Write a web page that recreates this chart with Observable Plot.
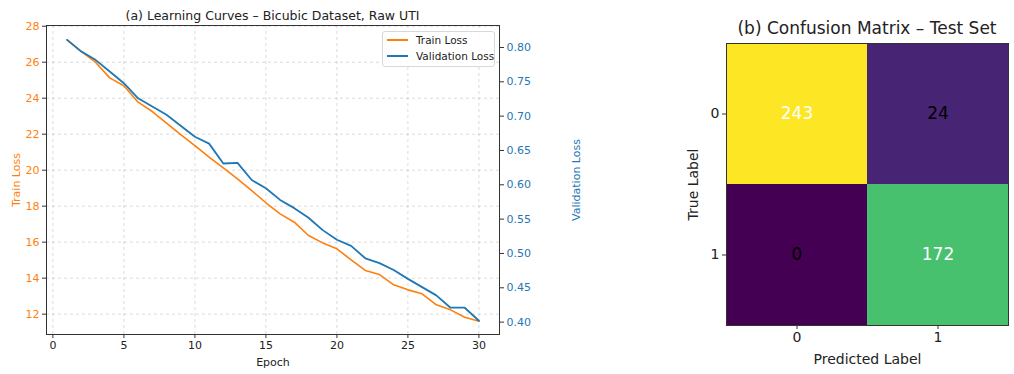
<!DOCTYPE html>
<html>
<head>
<meta charset="utf-8">
<script src="https://cdn.jsdelivr.net/npm/d3@7"></script>
<script src="https://cdn.jsdelivr.net/npm/@observablehq/plot@0.6"></script>
<style>
  html, body { margin: 0; padding: 0; background: white; }
  #root { position: relative; width: 1014px; height: 374px; overflow: hidden; font-family: "DejaVu Sans", sans-serif; }
  .layer { position: absolute; top: 0; }
  .title { position: absolute; white-space: nowrap; transform: translate(-50%, -50%); color: #222; }
  #legend { position: absolute; left: 382px; top: 31px; width: 113px; height: 36px; border: 1px solid #d8d8d8; border-radius: 3px; background: rgba(255,255,255,0.85); font-size: 10.5px; color: #222; box-sizing: border-box; }
  #legend .row { position: absolute; left: 4px; display: flex; align-items: center; white-space: nowrap; }
  #legend .sw { width: 21px; height: 2px; margin-right: 8px; }
</style>
</head>
<body>
<div id="root"></div>
<script>
// ---------- data ----------
const epochs = [1,2,3,4,5,6,7,8,9,10,11,12,13,14,15,16,17,18,19,20,21,22,23,24,25,26,27,28,29,30];
const trainLoss = [27.24,26.60,26.00,25.13,24.69,23.78,23.26,22.61,21.98,21.37,20.72,20.13,19.52,18.87,18.19,17.57,17.11,16.37,15.96,15.63,15.02,14.43,14.20,13.63,13.35,13.13,12.52,12.24,11.83,11.61];
const valLoss = [0.811,0.794,0.782,0.765,0.748,0.726,0.714,0.702,0.686,0.670,0.660,0.631,0.632,0.607,0.595,0.578,0.566,0.552,0.534,0.520,0.511,0.493,0.486,0.476,0.463,0.451,0.439,0.421,0.421,0.402];
const xTicks = [0,5,10,15,20,25,30];
const trainTicks = [12,14,16,18,20,22,24,26,28];
const valTicks = [0.40,0.45,0.50,0.55,0.60,0.65,0.70,0.75,0.80];
const seriesNames = ["Train Loss", "Validation Loss"];

const cmLabels = ["0", "1"];
const cmValues = [[243, 24], [0, 172]];

// ---------- styles ----------
const ORANGE = "#ff7f0e", BLUE = "#1f77b4";
const FONT = "DejaVu Sans, sans-serif";
const root = document.getElementById("root");

const trainData = epochs.map((e, i) => ({epoch: e, loss: trainLoss[i]}));
const valData = epochs.map((e, i) => ({epoch: e, loss: valLoss[i]}));

const W = 600, H = 374;
const common = {
  width: W, height: H,
  marginLeft: 46, marginRight: 101, marginTop: 25, marginBottom: 40,
  x: {domain: [-0.45, 31.45]}
};
const gridStyle = {stroke: "#b0b0b0", strokeOpacity: 0.45, strokeDasharray: "3,3"};

// Left: train loss
const plotA = Plot.plot({
  ...common,
  style: {fontFamily: FONT, fontSize: "11px", background: "white", color: "#222"},
  y: {domain: [10.87, 28.04]},
  marks: [
    Plot.gridX(xTicks, gridStyle),
    Plot.gridY(trainTicks, gridStyle),
    Plot.axisX(xTicks, {tickSize: 4, tickPadding: 3, stroke: "#333", label: "Epoch", labelAnchor: "center", labelArrow: "none", labelOffset: 31}),
    Plot.axisY(trainTicks, {tickSize: 4, tickPadding: 3, stroke: "#333", fill: ORANGE, label: "Train Loss", labelAnchor: "center", labelArrow: "none", labelOffset: 34}),
    Plot.line(trainData, {x: "epoch", y: "loss", stroke: ORANGE, strokeWidth: 1.6}),
    Plot.frame({stroke: "#333", strokeWidth: 1})
  ]
});
plotA.classList.add("layer");
plotA.style.left = "0px";
root.appendChild(plotA);

// Overlay: validation loss on right axis
const plotB = Plot.plot({
  ...common,
  style: {fontFamily: FONT, fontSize: "11px", background: "transparent", color: "#222"},
  x: {domain: [-0.45, 31.45], axis: null},
  y: {domain: [0.382, 0.832]},
  marks: [
    Plot.axisY(valTicks, {anchor: "right", tickSize: 4, tickPadding: 3, stroke: "#333", fill: BLUE, tickFormat: d3.format(".2f"), label: "Validation Loss", labelAnchor: "center", labelArrow: "none", labelOffset: 80}),
    Plot.line(valData, {x: "epoch", y: "loss", stroke: BLUE, strokeWidth: 1.8})
  ]
});
plotB.classList.add("layer");
plotB.style.left = "0px";
plotB.style.pointerEvents = "none";
root.appendChild(plotB);

// Title (a)
const tA = document.createElement("div");
tA.className = "title";
tA.style.left = "272.5px"; tA.style.top = "15px"; tA.style.fontSize = "12.5px";
tA.textContent = "(a) Learning Curves – Bicubic Dataset, Raw UTI";
root.appendChild(tA);

// Legend
const leg = document.createElement("div");
leg.id = "legend";
[ORANGE, BLUE].forEach((c, i) => {
  const row = document.createElement("div");
  row.className = "row";
  row.style.top = (i === 0 ? 2 : 18) + "px";
  const sw = document.createElement("span");
  sw.className = "sw"; sw.style.background = c;
  const tx = document.createElement("span");
  tx.textContent = seriesNames[i];
  row.appendChild(sw); row.appendChild(tx);
  leg.appendChild(row);
});
root.appendChild(leg);

// ---------- Confusion matrix ----------
const cmData = [];
cmLabels.forEach((t, i) => cmLabels.forEach((p, j) => cmData.push({true: t, pred: p, value: cmValues[i][j]})));
const vmax = d3.max(cmData, d => d.value);

const plotC = Plot.plot({
  width: 374, height: 374,
  marginLeft: 86, marginRight: 6, marginTop: 43, marginBottom: 49,
  style: {fontFamily: FONT, fontSize: "14px", background: "transparent", color: "#222"},
  x: {domain: cmLabels, padding: 0},
  y: {domain: cmLabels, padding: 0},
  color: {type: "linear", scheme: "viridis", domain: [0, vmax]},
  marks: [
    Plot.cell(cmData, {x: "pred", y: "true", fill: "value"}),
    Plot.text(cmData, {x: "pred", y: "true", text: d => String(d.value), fontSize: 17, fill: d => d.value > vmax / 2 ? "white" : "black"}),
    Plot.axisX(cmLabels, {tickSize: 4, tickPadding: 3, stroke: "#333", label: "Predicted Label", labelAnchor: "center", labelArrow: "none", labelOffset: 38}),
    Plot.axisY(cmLabels, {tickSize: 4, tickPadding: 3, stroke: "#333", label: "True Label", labelAnchor: "center", labelArrow: "none", labelOffset: 38}),
    Plot.frame({stroke: "#333", strokeWidth: 1})
  ]
});
plotC.classList.add("layer");
plotC.style.left = "640px";
root.appendChild(plotC);

const tB = document.createElement("div");
tB.className = "title";
tB.style.left = "867px"; tB.style.top = "28px"; tB.style.fontSize = "17px";
tB.textContent = "(b) Confusion Matrix – Test Set";
root.appendChild(tB);
</script>
</body>
</html>
